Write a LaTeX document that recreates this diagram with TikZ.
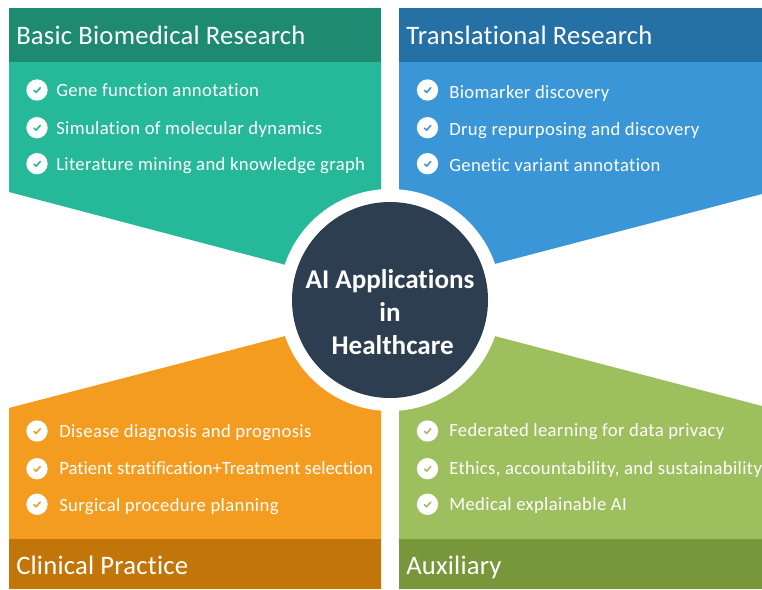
\documentclass[tikz,border=0pt]{standalone}
\usepackage{fontspec}
\setmainfont{Carlito}[Ligatures=NoCommon]
\newfontfamily\itemfont{Carlito}[LetterSpace=1.9,Ligatures=NoCommon]
\newfontfamily\headfont{Carlito}[LetterSpace=0.8,Ligatures=NoCommon]
\newfontfamily\tightfont{Carlito}[Ligatures=NoCommon]
\usetikzlibrary{calc}
\definecolor{tealb}{HTML}{25B99A}
\definecolor{tealh}{HTML}{1E8A72}
\definecolor{blueb}{HTML}{3A96D6}
\definecolor{blueh}{HTML}{2571A5}
\definecolor{orangeb}{HTML}{F39C1F}
\definecolor{orangeh}{HTML}{C2760A}
\definecolor{greenb}{HTML}{9DBF5E}
\definecolor{greenh}{HTML}{78963A}
\definecolor{navy}{HTML}{2C3E50}
\tikzset{
  x=0.75pt,y=-0.75pt,
  headtext/.style={text=white,anchor=base west,inner sep=0pt,font=\headfont\fontsize{20}{24}\selectfont},
  itemtext/.style={text=white,anchor=base west,inner sep=0pt,font=\itemfont\fontsize{14}{17}\selectfont},
  itemtight/.style={itemtext,font=\tightfont\fontsize{14}{17}\selectfont},
  hubdisc/.style={circle,fill=navy,minimum size=147pt,inner sep=0pt},
  hubtext/.style={text=white,align=center,inner sep=0pt,font=\fontsize{20.3}{24.75}\selectfont\bfseries},
}
\newcommand{\chk}[3]{%
  \fill[white] (#1,#2) circle[radius=8pt];
  \draw[#3,line width=1.2pt,line cap=round,line join=round] ($(#1,#2)+(-3,0.4)$) -- ($(#1,#2)+(-0.8,2.4)$) -- ($(#1,#2)+(3.2,-2.2)$);
}
\begin{document}
\begin{tikzpicture}
\useasboundingbox (0,0) rectangle (762,589);
\fill[white] (0,0) rectangle (762,589);
% panels
\fill[tealb] (9,8) -- (381,8) -- (381,290) -- (9,192) -- cycle;
\fill[blueb] (399,8) -- (762,8) -- (762,194) -- (399,289) -- cycle;
\fill[orangeb] (9,408) -- (381,311) -- (381,589) -- (9,589) -- cycle;
\fill[greenb] (399,311) -- (762,406) -- (762,589) -- (399,589) -- cycle;
% headers
\fill[tealh] (9,8) rectangle (381,62);
\fill[blueh] (399,8) rectangle (762,62);
\fill[orangeh] (9,539) rectangle (381,589);
\fill[greenh] (399,539) rectangle (762,589);
% hub
\fill[white] (390,300) circle[radius=83.25pt];
\node[hubdisc] (hub) at (390,300) {};
\node[hubtext] (hubt) at (390,312) {AI Applications\\in\\\hspace{4pt}Healthcare};
% header text
\node[headtext] (h1) at (16,44) {Basic Biomedical Research};
\node[headtext] (h2) at (406,44) {Translational Research};
\node[headtext] (h3) at (16,574) {Clinical Practice};
\node[headtext] (h4) at (406,574) {Auxiliary};
% items
\chk{37}{90}{tealb}\node[itemtext] (a1) at (56,96) {Gene function annotation};
\chk{37}{127.7}{tealb}\node[itemtext] (a2) at (56,134) {Simulation of molecular dynamics};
\chk{37}{163.7}{tealb}\node[itemtext] (a3) at (56,170) {Literature mining and knowledge graph};
\chk{427.5}{90}{blueb}\node[itemtext] (b1) at (449,98) {Biomarker discovery};
\chk{427.5}{127.7}{blueb}\node[itemtext] (b2) at (449,135) {Drug repurposing and discovery};
\chk{427.5}{163.7}{blueb}\node[itemtext] (b3) at (449,171) {Genetic variant annotation};
\chk{37}{431}{orangeb}\node[itemtext] (c1) at (59,437) {Disease diagnosis and prognosis};
\chk{37}{468.7}{orangeb}\node[itemtight] (c2) at (59,474) {Patient stratification+Treatment selection};
\chk{37}{504.3}{orangeb}\node[itemtext] (c3) at (59,511) {Surgical procedure planning};
\chk{427.5}{431}{greenb}\node[itemtext] (d1) at (449,436) {Federated learning for data privacy};
\chk{427.5}{468.7}{greenb}\node[itemtext] (d2) at (449,474) {Ethics, accountability, and sustainability};
\chk{427.5}{504.3}{greenb}\node[itemtext] (d3) at (449,510) {Medical explainable AI};
\end{tikzpicture}
\end{document}
